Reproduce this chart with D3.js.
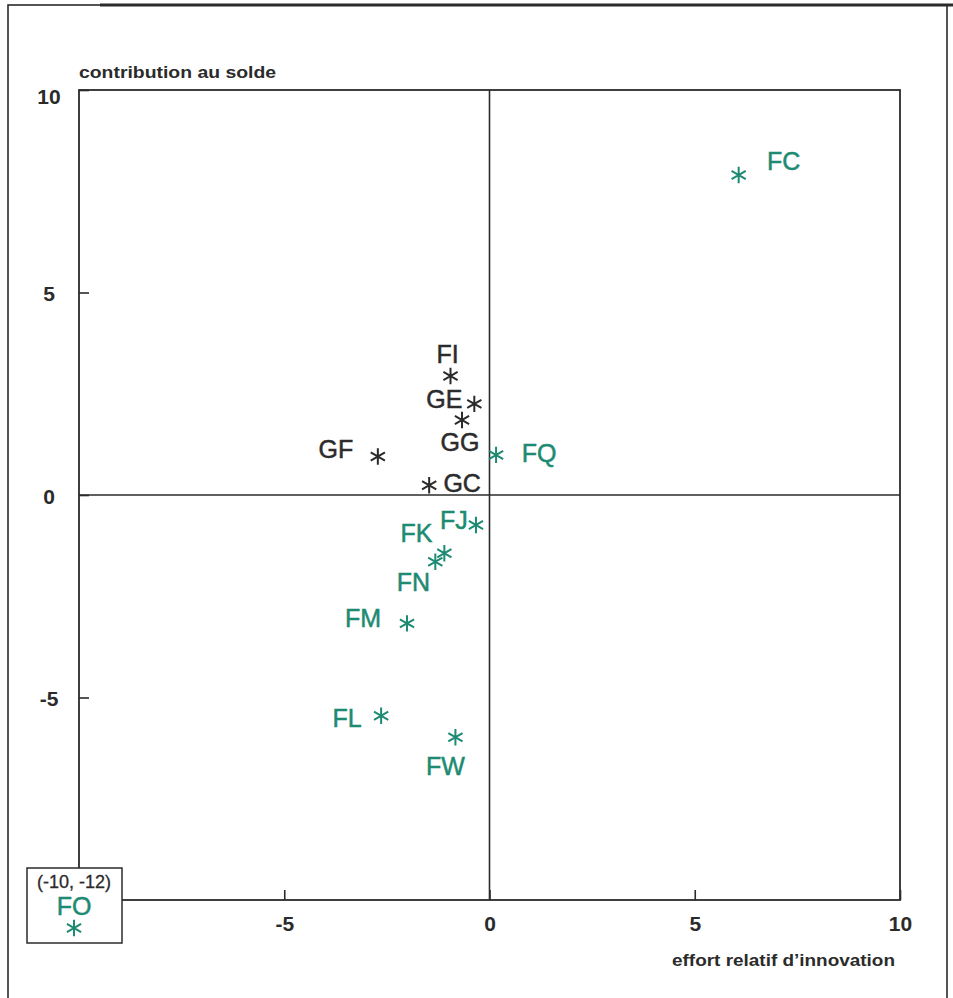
<!DOCTYPE html>
<html><head><meta charset="utf-8">
<script src="https://cdn.jsdelivr.net/npm/d3@7"></script>
<style>body{margin:0;background:#fff}svg{display:block}</style>
</head><body>
<script>
// Data
const names   = ["FC","FI","GE","GG","GF","GC","FQ","FJ","FK","FN","FM","FL","FW"];
const xValues = [6.07,-0.95,-0.37,-0.67,-2.72,-1.47,0.16,-0.33,-1.10,-1.32,-2.01,-2.64,-0.83];
const yValues = [7.9,2.94,2.25,1.85,0.95,0.24,0.99,-0.74,-1.44,-1.65,-3.17,-5.45,-5.98];
const groups  = ["F","G","G","G","G","G","F","F","F","F","F","F","F"];
// label offsets (dx, dy) relative to the marker, in px
const labelDx = [45,-3,-30,-2,-42,33,43,-22,-28,-22,-44,-34,-10];
const labelDy = [-14,-22,-5,22,-8,-2,-2,-5,-20,20,-5,2,29];
const outlier = {name:"FO", x:-10, y:-12, text:"(-10, -12)"};
const xTicks = [-5,0,5,10];
const yTicks = [10,5,0,-5];

const W=953,H=998;
const svg=d3.select("body").append("svg").attr("width",W).attr("height",H);
const teal="#1d8a72", ink="#2b2b2b";
const font="'Liberation Sans', Arial, sans-serif";

// outer page frame
svg.append("rect").attr("x",8).attr("y",5).attr("width",939).attr("height",1000)
  .attr("fill","none").attr("stroke",ink).attr("stroke-width",1.6);
svg.append("line").attr("x1",100).attr("x2",1000).attr("y1",5).attr("y2",5).attr("stroke",ink).attr("stroke-width",3);

const x=d3.scaleLinear().domain([-10,10]).range([79,900]);
const y=d3.scaleLinear().domain([-10,10]).range([900,90]);

const g=svg.append("g");
// plot frame
g.append("rect").attr("x",x(-10)).attr("y",y(10)).attr("width",x(10)-x(-10)).attr("height",y(-10)-y(10))
  .attr("fill","none").attr("stroke",ink).attr("stroke-width",1.8);
// zero axes
g.append("line").attr("x1",x(0)).attr("x2",x(0)).attr("y1",y(10)).attr("y2",y(-10)).attr("stroke",ink).attr("stroke-width",1.6);
g.append("line").attr("x1",x(-10)).attr("x2",x(10)).attr("y1",y(0)).attr("y2",y(0)).attr("stroke",ink).attr("stroke-width",1.6);

// axes (ticks inward)
const fmt=d=>String(d);
const xAxis=d3.axisBottom(x).tickValues(xTicks).tickSize(-10).tickPadding(16).tickFormat(fmt);
const xa=g.append("g").attr("transform",`translate(0,${y(-10)})`).call(xAxis);
const yAxis=d3.axisLeft(y).tickValues(yTicks).tickSize(-10).tickPadding(16).tickFormat(fmt);
const ya=g.append("g").attr("transform",`translate(${x(-10)},0)`).call(yAxis);
[xa,ya].forEach(a=>{
  a.select(".domain").remove();
  a.selectAll("line").attr("stroke",ink).attr("stroke-width",1.6);
  a.selectAll("text").attr("font-family",font).attr("font-size",21).attr("font-weight","bold").attr("fill",ink);
});
xa.selectAll("text").attr("dy","0.71em");
ya.selectAll("text").attr("x",-30).attr("text-anchor","middle").attr("dy",d=>d===10?"0.65em":"0.4em");

// axis titles
svg.append("text").attr("x",x(-10)).attr("y",78).text("contribution au solde")
  .attr("font-family",font).attr("font-size",16).attr("font-weight","bold").attr("fill",ink)
  .attr("textLength",197).attr("lengthAdjust","spacingAndGlyphs");
svg.append("text").attr("x",895).attr("y",966).attr("text-anchor","end").text("effort relatif d\u2019innovation")
  .attr("font-family",font).attr("font-size",16).attr("font-weight","bold").attr("fill",ink)
  .attr("textLength",223).attr("lengthAdjust","spacingAndGlyphs");

// points
const star=d3.symbol(d3.symbolAsterisk,190);
const data=names.map((n,i)=>({n,x:xValues[i],y:yValues[i],grp:groups[i],dx:labelDx[i],dy:labelDy[i]}));
const pts=g.selectAll(".pt").data(data).enter().append("g").attr("class","pt")
  .attr("transform",d=>`translate(${x(d.x)},${y(d.y)})`);
pts.append("path").attr("d",star).attr("fill","none")
  .attr("stroke",d=>d.grp==="F"?teal:ink).attr("stroke-width",2);
pts.append("text").attr("x",d=>d.dx).attr("y",d=>d.dy).attr("dy","0.36em").attr("text-anchor","middle")
  .text(d=>d.n).attr("font-family",font).attr("font-size",25)
  .attr("fill",d=>d.grp==="F"?teal:ink)
  .attr("stroke",d=>d.grp==="F"?teal:ink).attr("stroke-width",0.5);

// outlier box
const ob=svg.append("g");
ob.append("rect").attr("x",27).attr("y",868).attr("width",95).attr("height",75)
  .attr("fill","#fff").attr("stroke",ink).attr("stroke-width",1.5);
ob.append("text").attr("x",74).attr("y",882).attr("dy","0.36em").attr("text-anchor","middle")
  .text(outlier.text).attr("font-family",font).attr("font-size",18).attr("fill",ink)
  .attr("stroke",ink).attr("stroke-width",0.3);
ob.append("text").attr("x",74).attr("y",906).attr("dy","0.36em").attr("text-anchor","middle")
  .text(outlier.name).attr("font-family",font).attr("font-size",25).attr("fill",teal)
  .attr("stroke",teal).attr("stroke-width",0.5);
ob.append("path").attr("transform","translate(74,928)").attr("d",star)
  .attr("fill","none").attr("stroke",teal).attr("stroke-width",2);
</script>
</body></html>
